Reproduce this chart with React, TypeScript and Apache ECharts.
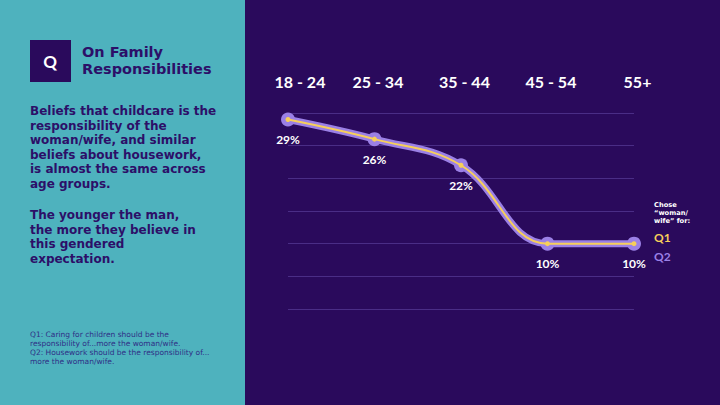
import React, { useEffect, useRef } from "react";
import * as echarts from "echarts";

const ageGroups = ["18 - 24", "25 - 34", "35 - 44", "45 - 54", "55+"];
const q1Values = [29, 26, 22, 10, 10];
const q2Values = [29, 26, 22, 10, 10];
const yTicks = [0, 5, 10, 15, 20, 25, 30];

const titleLines = ["On Family", "Responsibilities"];
const para1 = [
  "Beliefs that childcare is the",
  "responsibility of the",
  "woman/wife, and similar",
  "beliefs about housework,",
  "is almost the same across",
  "age groups.",
];
const para2 = [
  "The younger the man,",
  "the more they believe in",
  "this gendered",
  "expectation.",
];
const footnote = [
  "Q1: Caring for children should be the",
  "responsibility of...more the woman/wife.",
  "Q2: Housework should be the responsibility of...",
  "more the woman/wife.",
];
const legendHead = ["Chose", "\u201cwoman/", "wife\u201d for:"];

const BG = "#2a0a5c";
const TEAL = "#4eb2be";
const INK = "#2c0f68";
const YELLOW = "#f7cf5a";
const LAV = "#9b80e6";
const FONT = "Lato, 'Noto Sans', sans-serif";
const WIDE = "'DejaVu Sans', Lato, sans-serif";

export default function App() {
  const ref = useRef<HTMLDivElement>(null);
  useEffect(() => {
    document.body.style.margin = "0";
    if (!ref.current) return;
    const chart = echarts.init(ref.current, undefined, { renderer: "svg" });

    const texts: any[] = [];
    const block = (
      lines: string[],
      x: number,
      yTop: number,
      lh: number,
      font: string,
      fill: string,
      align = "left"
    ) =>
      texts.push({
        type: "text",
        z: 10,
        style: {
          text: lines.join("\n"),
          x,
          y: yTop,
          font,
          lineHeight: lh,
          fill,
          textAlign: align,
          textVerticalAlign: "top",
        },
      });

    block(titleLines, 82, 43.5, 17, `bold 14.5px ${WIDE}`, INK);
    block(para1, 30, 103.7, 14.6, `bold 12px ${WIDE}`, INK);
    block(para2, 30, 207.7, 14.6, `bold 12px ${WIDE}`, INK);
    block(footnote, 30, 329.5, 9, `7.5px ${WIDE}`, "#2f2f86");
    block(legendHead, 654, 201, 8, `bold 6.7px ${WIDE}`, "#ffffff");
    block(["Q1"], 654, 230, 14, `bold 12px ${FONT}`, YELLOW);
    block(["Q2"], 654, 249, 14, `bold 12px ${FONT}`, LAV);
    block(["Q"], 50, 52, 18, `bold 17px ${FONT}`, "#ffffff", "center");

    const option: any = {
      animation: false,
      backgroundColor: BG,
      graphic: [
        { type: "rect", z: 0, shape: { x: 0, y: 0, width: 245, height: 405 }, style: { fill: TEAL } },
        { type: "rect", z: 1, shape: { x: 30, y: 40, width: 41, height: 42 }, style: { fill: BG } },
        ...texts,
      ],
      grid: { left: 288, right: 86, top: 113, bottom: 96 },
      xAxis: {
        type: "category",
        position: "top",
        boundaryGap: false,
        data: ageGroups,
        axisLine: { show: false },
        axisTick: { show: false },
        splitLine: { show: false },
        axisLabel: {
          interval: 0,
          margin: 24,
          color: "#ffffff",
          fontFamily: FONT,
          fontWeight: "bold",
          fontSize: 16,
          formatter: (v: string, i: number) => (i === 0 ? `{f|${v}}` : `{o|${v}}`),
          rich: {
            f: { color: "#ffffff", fontFamily: FONT, fontWeight: "bold", fontSize: 16, padding: [0, 0, 0, 24] },
            o: { color: "#ffffff", fontFamily: FONT, fontWeight: "bold", fontSize: 16, padding: [0, 0, 0, 7] },
          },
        },
      },
      yAxis: {
        type: "value",
        min: yTicks[0],
        max: yTicks[yTicks.length - 1],
        interval: yTicks[1] - yTicks[0],
        axisLabel: { show: false },
        axisLine: { show: false },
        axisTick: { show: false },
        splitLine: { show: true, lineStyle: { color: "#4a2d86", width: 1 } },
      },
      series: [
        {
          name: "Q2",
          type: "line",
          data: q2Values,
          smooth: 0.4,
          symbol: "circle",
          symbolSize: 14,
          itemStyle: { color: LAV },
          lineStyle: { color: LAV, width: 7 },
          label: {
            show: true,
            position: "bottom",
            distance: 7,
            color: "#ffffff",
            fontFamily: FONT,
            fontWeight: "bold",
            fontSize: 12,
            formatter: (p: any) => `${p.value}%`,
          },
          z: 2,
        },
        {
          name: "Q1",
          type: "line",
          data: q1Values,
          smooth: 0.4,
          symbol: "circle",
          symbolSize: 5,
          itemStyle: { color: YELLOW },
          lineStyle: { color: YELLOW, width: 2 },
          label: { show: false },
          z: 3,
        },
      ],
    };
    chart.setOption(option);
    return () => chart.dispose();
  }, []);
  return <div ref={ref} style={{ width: 720, height: 405 }} />;
}
